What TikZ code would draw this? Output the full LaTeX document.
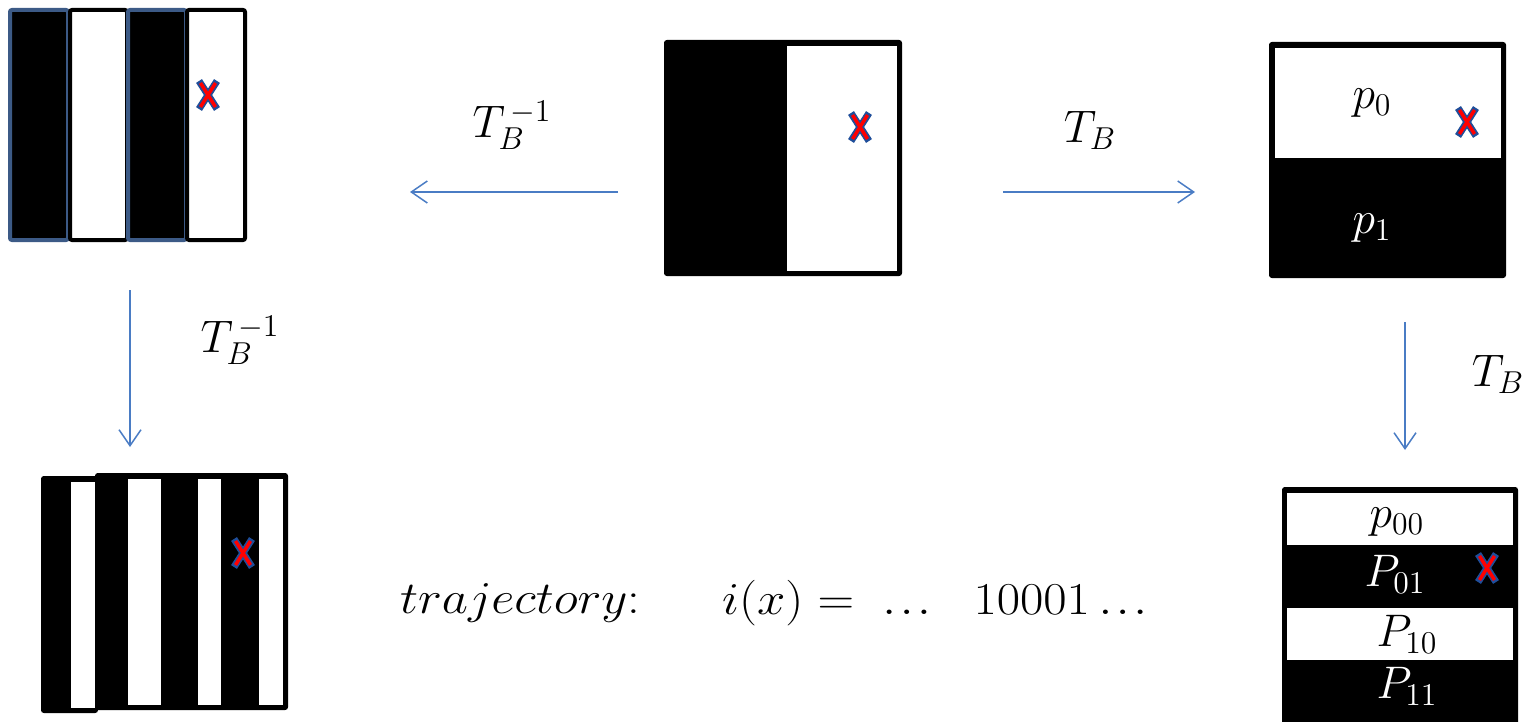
\documentclass[tikz,border=0pt]{standalone}
\usepackage{graphicx}
\usetikzlibrary{arrows.meta}
\definecolor{arrowblue}{HTML}{4A7CC4}
\definecolor{edgeblue}{HTML}{3C5A86}
\definecolor{xblue}{HTML}{1F4E9A}
\definecolor{xred}{HTML}{FF0000}
\newcommand\bigtxt[1]{\scalebox{2.2}{\huge #1}}
\newcommand\widetxt[1]{\scalebox{2.45}[2.2]{\huge #1}}
\newcommand\tdots{\mathord{.\kern1.5pt.\kern1.5pt.}}
\tikzset{
  conn/.style={arrowblue, line width=1.5pt, -{Straight Barb[length=16pt,width=22pt,line width=1.5pt]}},
  lbl/.style={inner sep=0pt},
  blackstripe/.style={fill=black, draw=edgeblue, line width=4pt, rounded corners=2pt},
  whitestripe/.style={fill=white, draw=black, line width=4pt, rounded corners=2pt},
  blk/.style={fill=black, draw=black, line width=2pt, rounded corners=2pt},
  wht/.style={fill=white},
}
\newcommand\xmark[2]{%
  \coordinate (#1) at (#2);
  \draw[xblue, line width=7pt, shift={(#1)}] (-9,-14) -- (9,14) (-9,14) -- (9,-14);
  \draw[xred, line width=3.5pt, shift={(#1)}] (-7.5,-12) -- (7.5,12) (-7.5,12) -- (7.5,-12);
}
\begin{document}
\begin{tikzpicture}[x=1pt,y=-1pt]
\useasboundingbox (0,0) rectangle (1525,722);
% top-left striped square
\draw[blackstripe] (10,10) rectangle (68,240);
\draw[whitestripe] (70,10) rectangle (127,240);
\draw[blackstripe] (128,10) rectangle (186,240);
\draw[whitestripe] (187,10) rectangle (245,240);
\xmark{xa}{208,95}
% bottom-left striped square
\draw[blk] (42,477) rectangle (97,712);
\fill[wht] (71,482) rectangle (95,708);
\draw[blk] (96,474) rectangle (287,709);
\fill[wht] (128,479) rectangle (161,705);
\fill[wht] (198,479) rectangle (221,705);
\fill[wht] (259,479) rectangle (283,705);
\xmark{xb}{243,553}
% top-middle square
\draw[blk] (665,41) rectangle (901,275);
\fill[wht] (787,46) rectangle (897,271);
\xmark{xc}{860,127}
% top-right square
\draw[blk] (1270,43) rectangle (1505,277);
\fill[wht] (1275,48) rectangle (1501,158);
\node[lbl] (p0) at (1372,103) {\bigtxt{$p_0$}};
\node[lbl, text=white] (p1) at (1372,228) {\bigtxt{$p_1$}};
\xmark{xd}{1467,122}
% bottom-right square
\draw[blk] (1283,488) rectangle (1517,726);
\fill[wht] (1287,493) rectangle (1513,545);
\fill[wht] (1287,608) rectangle (1513,660);
\node[lbl] (p00) at (1397,522) {\bigtxt{$p_{00}$}};
\node[lbl, text=white] (p01) at (1395,574) {\bigtxt{$P_{01}$}};
\node[lbl] (p10) at (1407,634) {\bigtxt{$P_{10}$}};
\node[lbl, text=white] (p11) at (1407,686) {\bigtxt{$P_{11}$}};
\xmark{xe}{1487,568}
% arrows
\coordinate (a1s) at (618,192); \coordinate (a1e) at (410,192);
\coordinate (a2s) at (1003,192); \coordinate (a2e) at (1195,192);
\coordinate (a3s) at (130,290); \coordinate (a3e) at (130,447);
\coordinate (a4s) at (1405,322); \coordinate (a4e) at (1405,450);
\draw[conn] (a1s) -- (a1e);
\draw[conn] (a2s) -- (a2e);
\draw[conn] (a3s) -- (a3e);
\draw[conn] (a4s) -- (a4e);
% labels
\node[lbl] (l1) at (512,125) {\bigtxt{$T_B^{\,-1}$}};
\node[lbl] (l2) at (1090,130) {\bigtxt{$T_B$}};
\node[lbl] (l3) at (240,340) {\bigtxt{$T_B^{\,-1}$}};
\node[lbl] (l4) at (1498,374) {\bigtxt{$T_B$}};
% trajectory
\node[lbl, anchor=west] (traj) at (400,603) {\widetxt{$trajectory$:}};
\node[lbl, anchor=west] (ix) at (722,603) {\widetxt{$i(x) = \;\tdots\;\;\; 10001\,\tdots$}};
\end{tikzpicture}
\end{document}
